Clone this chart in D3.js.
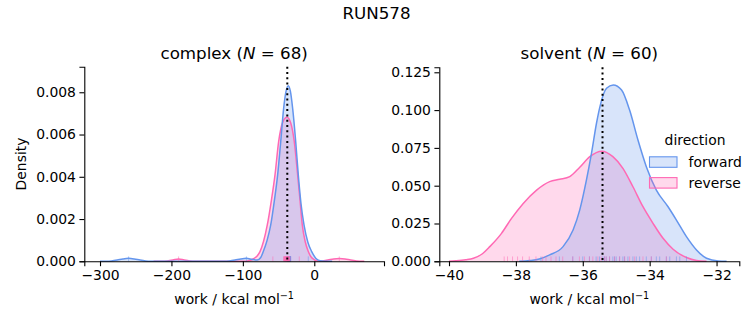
<!DOCTYPE html>
<html><head><meta charset="utf-8">
<script src="https://cdn.jsdelivr.net/npm/d3@7"></script>
<style>body{margin:0;background:#fff} text{font-family:"DejaVu Sans",sans-serif;fill:#000}</style>
</head><body><svg id="c" width="753" height="325"></svg>
<script>
// ---------- data ----------
const suptitle = "RUN578";
const directions = ["forward", "reverse"];
const colors = ["#6495ED", "#FF69B4"];

// complex panel: KDE curves
const complexForwardX = [-300,-292,-284,-276,-268,-260,-252,-244,-236,-228,-220,-135,-127,-119,-111,-103,-95,-87,-80,-75,-71.4,-66,-61,-56,-51.3,-47,-42.9,-39.5,-36.4,-33.5,-30.3,-26,-22.4,-18.5,-14.4,-9,-3.6,2,8,15,25];
const complexForwardY = [0,0.000004,0.000019,0.000058,0.000112,0.00014,0.000112,0.000058,0.000019,0.000004,0,0,0.000004,0.000019,0.000058,0.000112,0.00014,0.00009,0.00006,0.00018,0.00046,0.00100,0.00172,0.00285,0.00409,0.00566,0.00724,0.00805,0.00831,0.00805,0.00724,0.00566,0.00409,0.00270,0.00172,0.00090,0.00046,0.00015,0.00003,0.000005,0];
const complexReverseX = [-225,-214,-206,-198,-190,-182,-174,-166,-155,-100,-92,-85,-80,-76,-71,-65.8,-60,-55,-49.9,-44,-38.2,-33,-28,-23.3,-20,-16.8,-12.5,-8.4,-3,5,11,19,27,35,43,51,59,70];
const complexReverseY = [0,0.000004,0.000019,0.000058,0.000112,0.000058,0.000019,0.000004,0,0,0.00003,0.00012,0.00025,0.00046,0.00095,0.00172,0.00290,0.00409,0.00566,0.00660,0.00682,0.00655,0.00566,0.00409,0.00290,0.00172,0.00090,0.00046,0.00015,0.00002,0.000019,0.000058,0.000112,0.00013,0.000112,0.000058,0.000019,0];
const complexForwardWork = [-260,-95,-8.4,-38,-37.8,-37.5,-37.3,-37,-36.8,-36.6,-36.4,-36.2,-36,-35.8,-35.6,-35.4,-35.2,-35,-34.8,-34.6,-34.4,-34.2,-34,-33.8,-33.6,-33.4,-33.2,-33,-36.9,-35.5,-34.5,-35.1,-36.1,-34.1];
const complexReverseWork = [-190,-58,-21,35,-43,-42.5,-42,-41.6,-41.2,-40.8,-40.4,-40,-39.6,-39.2,-38.8,-38.4,-38,-37.6,-37.2,-36.8,-36.4,-36,-35.6,-35.2,-34.8,-34.4,-34,-39.9,-38.1,-37.4,-36.6,-40.5,-39,-35.9];
const complexMean = -37.8;

// solvent panel
const solventForwardX = [-37.9,-37.58,-37.3,-36.99,-36.59,-36.29,-36.09,-35.89,-35.74,-35.59,-35.49,-35.29,-35.09,-34.84,-34.6,-34.35,-34.1,-33.8,-33.45,-33.2,-32.9,-32.6,-32.3,-31.95,-31.7];
const solventForwardY = [0,0.0005,0.0015,0.0042,0.0097,0.0207,0.0340,0.0538,0.0714,0.0913,0.1020,0.1144,0.1166,0.1133,0.1000,0.0802,0.0626,0.0471,0.0361,0.0273,0.0163,0.0075,0.0020,0.0002,0];
const solventReverseX = [-40.0,-39.8,-39.5,-39.27,-39.0,-38.78,-38.43,-38.13,-37.78,-37.38,-36.99,-36.69,-36.39,-36.09,-35.79,-35.43,-35.1,-34.8,-34.5,-34.2,-33.9,-33.6,-33.3,-32.9,-32.6,-32.3];
const solventReverseY = [0,0.0003,0.0010,0.0020,0.0050,0.0097,0.0185,0.0284,0.0383,0.0471,0.0527,0.0542,0.0560,0.0622,0.0692,0.0728,0.0692,0.0615,0.0493,0.0361,0.0251,0.0152,0.0080,0.0025,0.0005,0];
const solventForwardWork = [-37.25,-36.7,-36.3,-36.0,-35.8,-35.6,-35.5,-35.4,-35.35,-35.3,-35.2,-35.1,-35.05,-35.0,-34.9,-34.8,-34.75,-34.65,-34.5,-34.4,-34.3,-34.1,-33.95,-33.8,-33.7,-33.5,-33.4,-33.2,-33.1,-32.9];
const solventReverseWork = [-38.35,-38.25,-38.1,-37.95,-37.8,-37.6,-37.4,-37.2,-37.1,-36.95,-36.8,-36.6,-36.3,-36.1,-35.95,-35.8,-35.7,-35.55,-35.45,-35.35,-35.3,-35.2,-35.05,-34.9,-34.75,-34.6,-34.45,-34.2,-33.95,-33.5];
const solventMean = -35.41;

const complexXTicks = [-300,-200,-100,0];
const complexYTicks = [0,0.002,0.004,0.006,0.008];
const solventXTicks = [-40,-38,-36,-34,-32];
const solventYTicks = [0,0.025,0.05,0.075,0.1,0.125];

// ---------- drawing ----------
const svg = d3.select("#c");
const minus = s => s.replace(/-/g, "\u2212");

svg.append("text").attr("x", 376.5).attr("y", 19).attr("text-anchor", "middle")
  .style("font-size", "16.7px").text(suptitle);

function panel(o) {
  const x = d3.scaleLinear().domain(o.xdom).range([o.left, o.right]);
  const y = d3.scaleLinear().domain(o.ydom).range([o.bottom, o.top]);
  const g = svg.append("g");
  const series = [
    {xs: o.revX, ys: o.revY, c: colors[1], w: o.revW},
    {xs: o.fwdX, ys: o.fwdY, c: colors[0], w: o.fwdW}
  ];
  series.forEach(s => {
    const pts = s.xs.map((v, i) => [v, s.ys[i]]);
    g.append("path").datum(pts)
      .attr("d", d3.area().x(d => x(d[0])).y0(y(0)).y1(d => y(d[1])).curve(d3.curveMonotoneX))
      .attr("fill", s.c).attr("fill-opacity", 0.25).attr("stroke", "none");
  });
  series.forEach(s => {
    const pts = s.xs.map((v, i) => [v, s.ys[i]]);
    g.append("path").datum(pts)
      .attr("d", d3.line().x(d => x(d[0])).y(d => y(d[1])).curve(d3.curveMonotoneX))
      .attr("fill", "none").attr("stroke", s.c).attr("stroke-width", 1.5);
  });
  // rug
  const rugH = (o.bottom - o.top) * 0.025;
  series.slice().reverse().forEach(s => {
    g.selectAll(null).data(s.w).enter().append("line")
      .attr("x1", d => x(d)).attr("x2", d => x(d))
      .attr("y1", o.bottom).attr("y2", o.bottom - rugH)
      .attr("stroke", s.c).attr("stroke-opacity", 0.5).attr("stroke-width", 1);
  });
  // mean line
  g.append("line").attr("x1", x(o.mean)).attr("x2", x(o.mean))
    .attr("y1", o.top).attr("y2", o.bottom)
    .attr("stroke", "#000").attr("stroke-width", 2).attr("stroke-dasharray", "2,3.3");
  // axes
  const ax = g.append("g").attr("transform", `translate(0,${o.bottom})`)
    .call(d3.axisBottom(x).tickValues(o.xticks).tickSize(4.9).tickPadding(3.5).tickFormat(d => minus(d3.format("d")(d))));
  const ay = g.append("g").attr("transform", `translate(${o.left},0)`)
    .call(d3.axisLeft(y).tickValues(o.yticks).tickSize(4.9).tickPadding(3.5).tickFormat(d3.format(".3f")));
  [ax, ay].forEach(a => {
    a.select(".domain").attr("stroke", "#000").attr("stroke-width", 1.1);
    a.selectAll(".tick line").attr("stroke", "#000").attr("stroke-width", 1.1);
    a.selectAll(".tick text").style("font-size", "13.9px").attr("fill", "#000")
      .style("font-family", "DejaVu Sans");
  });
  // title
  const cx = (o.left + o.right) / 2;
  const t = svg.append("text").attr("x", cx).attr("y", 58.5).attr("text-anchor", "middle").style("font-size", "16.7px");
  t.append("tspan").text(o.name + " (");
  t.append("tspan").style("font-style", "italic").text("N");
  t.append("tspan").text(" = " + o.n + ")");
  // x label
  const xl = svg.append("text").attr("x", cx).attr("y", 304).attr("text-anchor", "middle").style("font-size", "13.9px");
  xl.append("tspan").text("work / kcal mol");
  xl.append("tspan").attr("dy", -5).style("font-size", "9.7px").text("\u22121");
}

panel({name: "complex", n: 68, left: 84.3, right: 384, top: 66.7, bottom: 261.3,
  xdom: [-322, 97.6], ydom: [0, 0.00921],
  fwdX: complexForwardX, fwdY: complexForwardY, revX: complexReverseX, revY: complexReverseY,
  fwdW: complexForwardWork, revW: complexReverseWork, mean: complexMean,
  xticks: complexXTicks, yticks: complexYTicks});

panel({name: "solvent", n: 60, left: 439.3, right: 739.3, top: 67.3, bottom: 261.3,
  xdom: [-40.29, -31.32], ydom: [0, 0.1283],
  fwdX: solventForwardX, fwdY: solventForwardY, revX: solventReverseX, revY: solventReverseY,
  fwdW: solventForwardWork, revW: solventReverseWork, mean: solventMean,
  xticks: solventXTicks, yticks: solventYTicks});

// y label
svg.append("text").attr("transform", "translate(26,164) rotate(-90)").attr("text-anchor", "middle")
  .style("font-size", "13.9px").text("Density");

// legend
const lg = svg.append("g");
lg.append("text").attr("x", 695).attr("y", 145).attr("text-anchor", "middle").style("font-size", "13.9px").text("direction");
directions.forEach((d, i) => {
  const yy = 156.8 + i * 20.8;
  lg.append("rect").attr("x", 649.5).attr("y", yy).attr("width", 27.5).attr("height", 10.5)
    .attr("fill", colors[i]).attr("fill-opacity", 0.25).attr("stroke", colors[i]).attr("stroke-width", 1.1);
  lg.append("text").attr("x", 688.5).attr("y", yy + 10).style("font-size", "13.9px").text(d);
});
</script></body></html>
